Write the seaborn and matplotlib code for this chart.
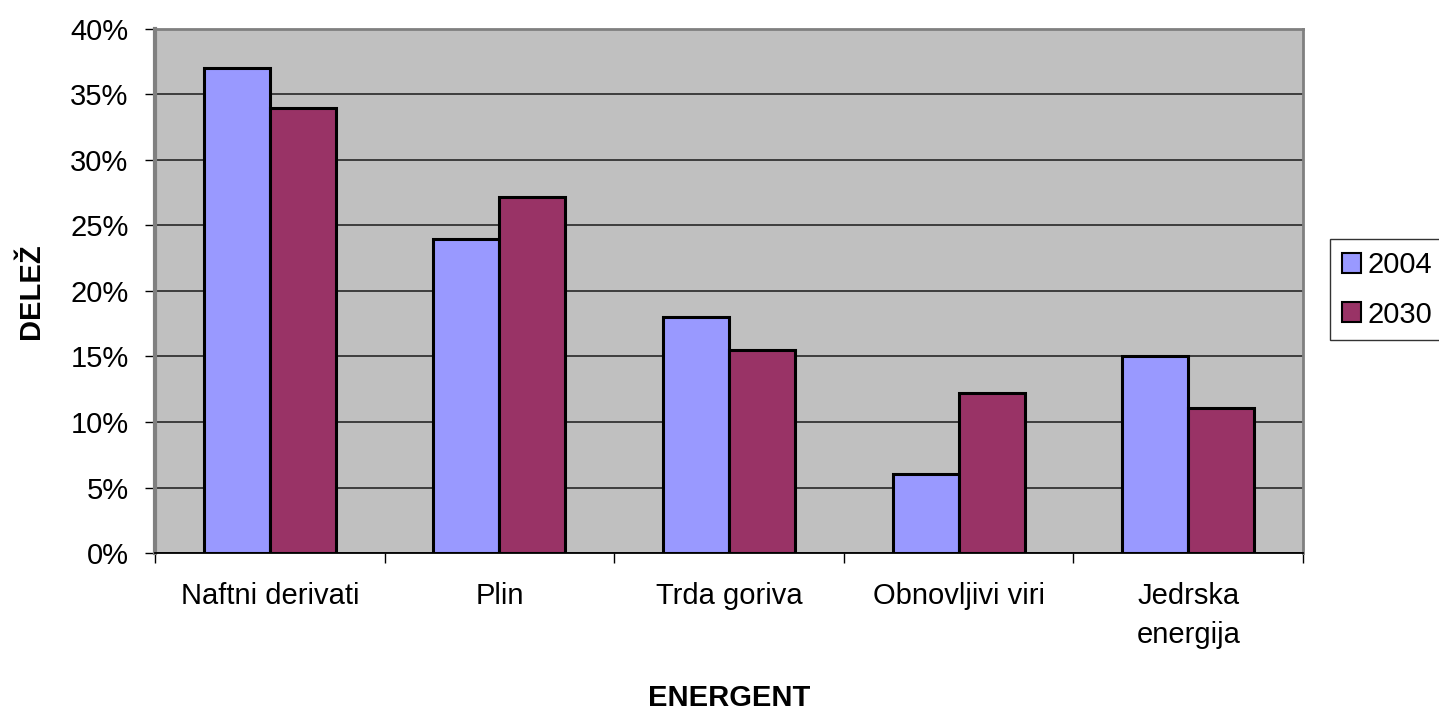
import pandas as pd
import seaborn as sns
import matplotlib.pyplot as plt
from matplotlib.ticker import PercentFormatter, MultipleLocator

# data
energenti = ['Naftni derivati', 'Plin', 'Trda goriva', 'Obnovljivi viri', 'Jedrska\nenergija']
delez_2004 = [0.37, 0.24, 0.18, 0.06, 0.15]
delez_2030 = [0.34, 0.272, 0.155, 0.122, 0.111]
leta = ['2004', '2030']

df = pd.DataFrame({'ENERGENT': energenti, '2004': delez_2004, '2030': delez_2030})
dfm = df.melt(id_vars='ENERGENT', var_name='Leto', value_name='DELEŽ')

sns.set_style('white')
plt.rcParams['font.family'] = ['Liberation Sans', 'DejaVu Sans']
plt.rcParams['text.color'] = 'black'
plt.rcParams['axes.labelcolor'] = 'black'
plt.rcParams['xtick.color'] = 'black'
plt.rcParams['ytick.color'] = 'black'

fs = 21

fig = plt.figure(figsize=(14.39, 7.1), dpi=100)
ax = fig.add_axes([0.1077, 0.2211, 0.7978, 0.7381])
ax.set_facecolor('#C0C0C0')

sns.barplot(data=dfm, x='ENERGENT', y='DELEŽ', hue='Leto', hue_order=leta,
            palette=['#9999FF', '#993366'], saturation=1, width=0.575, gap=0,
            edgecolor='black', linewidth=2.2, ax=ax)

ax.set_ylim(0, 0.40)
ax.set_xlim(-0.5, 4.5)
ax.yaxis.set_major_locator(MultipleLocator(0.05))
ax.yaxis.set_major_formatter(PercentFormatter(1.0, decimals=0))
ax.grid(axis='y', color='#1a1a1a', linewidth=1.1)
ax.set_axisbelow(True)

# category ticks sit between groups
ax.set_xticks(range(len(energenti)))
ax.set_xticklabels(energenti, linespacing=1.5)
ax.set_xticks([i - 0.5 for i in range(len(energenti) + 1)], minor=True)
ax.tick_params(axis='x', which='major', length=0, pad=21, labelsize=fs)
ax.tick_params(axis='x', which='minor', length=7, width=1, color='black', direction='out', bottom=True)
ax.tick_params(axis='y', length=7, width=1, color='black', direction='out', left=True, pad=12, labelsize=fs)

for s in ['top', 'right']:
    ax.spines[s].set_color('#808080')
    ax.spines[s].set_linewidth(2)
ax.spines['left'].set_color('#808080')
ax.spines['left'].set_linewidth(3)
ax.spines['bottom'].set_color('black')
ax.spines['bottom'].set_linewidth(1.3)

ax.set_xlabel('ENERGENT', fontsize=fs, fontweight='bold', labelpad=25)
ax.set_ylabel('DELEŽ', fontsize=fs, fontweight='bold', labelpad=18)

handles, labels = ax.get_legend_handles_labels()
leg = ax.legend(handles, labels, loc='upper left', bbox_to_anchor=(1.0235, 0.599),
                fontsize=fs, frameon=True, fancybox=False, edgecolor='black',
                handlelength=0.68, handleheight=0.68, handletextpad=0.2,
                labelspacing=0.75, borderpad=0.4, borderaxespad=0)
leg.get_frame().set_linewidth(1)
for h in leg.legend_handles:
    h.set_edgecolor('black')
    h.set_linewidth(1.5)

fig.savefig('out.png', dpi=100)
